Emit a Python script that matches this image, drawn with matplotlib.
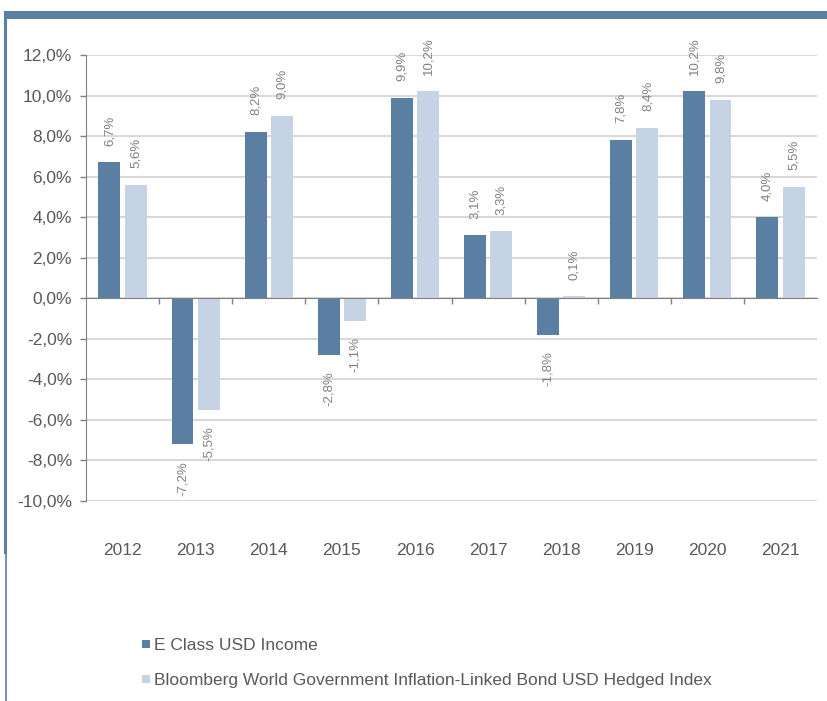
import matplotlib
matplotlib.use("Agg")
from matplotlib import pyplot as plt
from matplotlib.patches import Rectangle
from matplotlib.lines import Line2D
from matplotlib.ticker import FixedLocator, FuncFormatter
import matplotlib.transforms as mtransforms
import numpy as np

# Chart data
years = ['2012', '2013', '2014', '2015', '2016', '2017', '2018', '2019', '2020', '2021']
fund = [6.7, -7.2, 8.2, -2.8, 9.9, 3.1, -1.8, 7.8, 10.2, 4.0]
index = [5.6, -5.5, 9.0, -1.1, 10.2, 3.3, 0.1, 8.4, 9.8, 5.5]
series_names = ['E Class USD Income',
                'Bloomberg World Government Inflation-Linked Bond USD Hedged Index']
y_ticks = [-10, -8, -6, -4, -2, 0, 2, 4, 6, 8, 10, 12]

dark = '#5B7FA3'
light = '#C5D3E4'
text_grey = '#595959'
label_grey = '#808080'

plt.rcParams['font.family'] = ['Liberation Sans', 'DejaVu Sans']

W, H = 828, 701
fig = plt.figure(figsize=[W / 100, H / 100], dpi=100)
ax = fig.add_axes([86 / W, 1 - 501 / H, (817 - 86) / W, (501 - 55) / H])

x = np.arange(len(years))
bw = 0.30
off = 0.18
b1 = ax.bar(x - off, fund, bw, color=dark, zorder=3)
b2 = ax.bar(x + off, index, bw, color=light, zorder=3)

# value labels, rotated
def fmt_pct(v):
    return ('%.1f%%' % v).replace('.', ',')

for bars, vals in ((b1, fund), (b2, index)):
    for rect, v in zip(bars, vals):
        cx = rect.get_x() + rect.get_width() / 2
        if v >= 0:
            ax.annotate(fmt_pct(v), (cx, v), xytext=(0, 12), textcoords='offset points',
                        rotation=90, ha='center', va='bottom', fontsize=9.5, color=label_grey)
        else:
            ax.annotate(fmt_pct(v), (cx, v), xytext=(0, -12), textcoords='offset points',
                        rotation=90, ha='center', va='top', fontsize=9.5, color=label_grey)

ax.set_xlim(-0.5, len(years) - 0.5)
ax.set_ylim(-10, 12)
ax.yaxis.set_major_locator(FixedLocator(y_ticks))
ax.yaxis.set_major_formatter(FuncFormatter(lambda v, p: fmt_pct(v)))
ax.tick_params(axis='y', length=4, width=1, color='#808080', labelsize=12.5,
               labelcolor=text_grey, pad=6, direction='out')
ax.grid(axis='y', color='#D9D9D9', linewidth=1.5, zorder=0)

# x axis sits at zero with ticks between categories
ax.spines['bottom'].set_position(('data', 0))
ax.spines['bottom'].set_color('#808080')
ax.spines['bottom'].set_zorder(4)
ax.spines['left'].set_color('#808080')
ax.spines['top'].set_visible(False)
ax.spines['right'].set_visible(False)
ax.set_xticks(np.arange(0.5, len(years) - 1, 1))
ax.set_xticklabels([])
ax.tick_params(axis='x', length=4, width=1, color='#808080', direction='out')

trans = mtransforms.blended_transform_factory(ax.transData, ax.transAxes)
for i, yr in enumerate(years):
    ax.text(i, -0.112, yr, transform=trans, ha='center', va='center',
            fontsize=12.5, color=text_grey)

# legend, drawn by hand
for yc, col, name in ((644, dark, series_names[0]), (679, light, series_names[1])):
    fig.add_artist(Rectangle((142 / W, 1 - (yc + 4) / H), 8 / W, 8 / H,
                             transform=fig.transFigure, color=col, lw=0))
    fig.text(154 / W, 1 - (yc + 1) / H, name, ha='left', va='center',
             fontsize=12.5, color=text_grey)

# blue frame: band on top, line on left (thicker upper part)
fig.add_artist(Rectangle((4 / W, 1 - 19 / H), 1 - 4 / W, 8 / H,
                         transform=fig.transFigure, color=dark, lw=0))
fig.add_artist(Line2D([5.5 / W, 5.5 / W], [1 - 552 / H, 1 - 12 / H], transform=fig.transFigure,
                      color=dark, linewidth=2.2))
fig.add_artist(Line2D([6.5 / W, 6.5 / W], [0, 1 - 552 / H], transform=fig.transFigure,
                      color=dark, linewidth=1.2))

plt.savefig('out.png', dpi=100)
